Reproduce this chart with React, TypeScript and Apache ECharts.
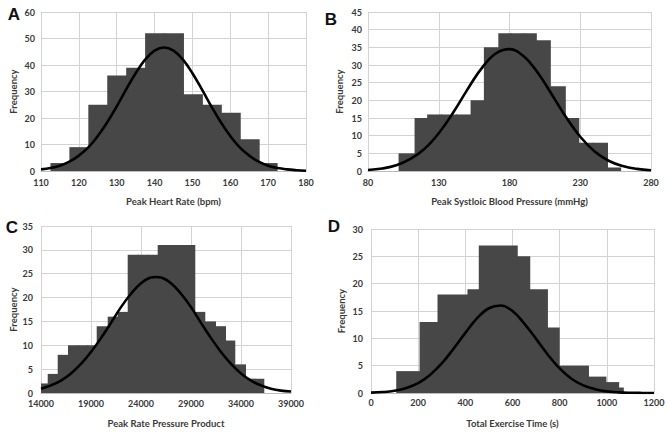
import React, { useEffect, useRef } from "react";
import * as echarts from "echarts";

// ---- Panel A: Peak Heart Rate ----
const aEdges = [112.5, 117.5, 122.5, 127.5, 132.5, 137.5, 142.5, 147.5, 152.5, 157.5, 162.5, 167.5, 172.5];
const aFreq = [3, 9, 25, 36, 39, 52, 52, 29, 25, 22, 12, 3];
const aCurveX = [110, 112.5, 115, 117.5, 120, 122.5, 125, 127.5, 130, 132.5, 135, 137.5, 140, 142.5, 145, 147.5, 150, 152.5, 155, 157.5, 160, 162.5, 165, 167.5, 170, 172.5, 175, 177.5, 180];
const aCurveY = [0.6, 1.1, 2.0, 3.5, 5.8, 8.9, 13.2, 18.4, 24.4, 30.8, 36.9, 42.0, 45.4, 46.6, 45.4, 42.0, 36.9, 30.8, 24.4, 18.4, 13.2, 8.9, 5.8, 3.5, 2.0, 1.1, 0.6, 0.3, 0.1];

// ---- Panel B: Peak Systolic Blood Pressure ----
const bEdges = [101.6, 112.9, 121.8, 131.9, 142.2, 152.5, 161.9, 172.1, 181.0, 189.8, 198.6, 208.5, 219.1, 228.6, 238.8, 248.9, 258.9];
const bFreq = [5, 15, 16, 16, 16, 20, 35, 39, 39, 39, 37, 24, 15, 8, 8, 1];
const bCurveX = [80, 90, 100, 110, 120, 130, 140, 150, 160, 170, 180, 190, 200, 210, 220, 230, 240, 250, 260, 270, 280];
const bCurveY = [0.3, 0.7, 1.6, 3.4, 6.3, 10.7, 16.4, 22.9, 28.9, 33.2, 34.5, 32.5, 27.8, 21.6, 15.2, 9.7, 5.6, 2.9, 1.4, 0.6, 0.2];

// ---- Panel C: Peak Rate Pressure Product ----
const cEdges = [14000, 14670, 15670, 16700, 17650, 18600, 19570, 20670, 21670, 22670, 23670, 24670, 25670, 26890, 28110, 29330, 30330, 31400, 32400, 33330, 34400, 35370, 36330];
const cFreq = [2, 4, 8, 10, 10, 10, 14, 16, 17, 29, 29, 29, 31, 31, 31, 17, 15, 14, 11, 6, 3, 3];
const cCurveX = [14000, 15000, 16000, 17000, 18000, 19000, 20000, 21000, 22000, 23000, 24000, 25000, 25500, 26000, 27000, 28000, 29000, 30000, 31000, 32000, 33000, 34000, 35000, 36000, 37000, 38000, 39000];
const cCurveY = [0.9, 1.6, 2.6, 4.1, 6.1, 8.6, 11.5, 14.7, 18.0, 20.8, 23.0, 24.2, 24.3, 24.2, 23.0, 20.8, 18.0, 14.7, 11.5, 8.6, 6.1, 4.1, 2.6, 1.6, 0.9, 0.5, 0.3];

// ---- Panel D: Total Exercise Time ----
const dEdges = [107, 206, 282, 409, 457, 618, 671, 746, 796, 920, 994, 1048, 1072];
const dFreq = [4, 13, 18, 19, 27, 25, 19, 12, 5, 3, 2, 1];
const dCurveX = [0, 50, 100, 150, 200, 250, 300, 350, 400, 450, 500, 550, 600, 650, 700, 750, 800, 850, 900, 950, 1000, 1050, 1100, 1150, 1200];
const dCurveY = [0.07, 0.17, 0.41, 0.91, 1.8, 3.3, 5.4, 8.1, 11.0, 13.7, 15.5, 16.0, 15.0, 12.7, 9.9, 7.0, 4.5, 2.6, 1.4, 0.7, 0.3, 0.12, 0.04, 0.01, 0.0];

const panelLetters = ["A", "B", "C", "D"];
const xNames = ["Peak Heart Rate (bpm)", "Peak Systloic Blood Pressure (mmHg)", "Peak Rate Pressure Product", "Total Exercise Time (s)"];

const FONT = "Lato, 'Open Sans', sans-serif";
const TXT = "#3a3a3a";
const GRIDC = "#d3d3d3";
const BAR = "#474747";

export default function App() {
  const ref = useRef<HTMLDivElement>(null);
  useEffect(() => {
    if (!ref.current) return;
    const chart = echarts.init(ref.current, undefined, { renderer: "svg" });

    const grids = [
      { left: 41, top: 12, width: 265, height: 159 },
      { left: 368, top: 12, width: 283, height: 159 },
      { left: 41, top: 226, width: 250, height: 167 },
      { left: 371, top: 229, width: 283, height: 164 },
    ];
    const xCfg = [
      { min: 110, max: 180, interval: 10, gap: 7, nameGap: 25 },
      { min: 80, max: 280, interval: 50, gap: 7, nameGap: 25 },
      { min: 14000, max: 39000, interval: 5000, gap: 6, nameGap: 25 },
      { min: 0, max: 1200, interval: 200, gap: 5, nameGap: 25 },
    ];
    const yCfg = [
      { max: 60, interval: 10, gap: 6, nameGap: 23 },
      { max: 45, interval: 5, gap: 6, nameGap: 24 },
      { max: 35, interval: 5, gap: 8, nameGap: 23 },
      { max: 30, interval: 5, gap: 8, nameGap: 25 },
    ];
    const hist = [
      { e: aEdges, f: aFreq, cx: aCurveX, cy: aCurveY },
      { e: bEdges, f: bFreq, cx: bCurveX, cy: bCurveY },
      { e: cEdges, f: cFreq, cx: cCurveX, cy: cCurveY },
      { e: dEdges, f: dFreq, cx: dCurveX, cy: dCurveY },
    ];

    const labelStyle = { fontFamily: FONT, fontSize: 9, fontWeight: "bold" as const, color: TXT };

    const xAxis = xCfg.map((c, i) => ({
      type: "value",
      gridIndex: i,
      min: c.min,
      max: c.max,
      interval: c.interval,
      name: xNames[i],
      nameLocation: "middle",
      nameGap: c.nameGap,
      nameTextStyle: { ...labelStyle, fontSize: 9.5 },
      axisLine: { show: true, lineStyle: { color: "#bdbdbd", width: 1 } },
      axisTick: { show: false },
      axisLabel: { ...labelStyle, margin: c.gap, formatter: (v: number) => String(v) },
      splitLine: { show: true, lineStyle: { color: GRIDC, width: 1 } },
    }));
    const yAxis = yCfg.map((c, i) => ({
      type: "value",
      gridIndex: i,
      min: 0,
      max: c.max,
      interval: c.interval,
      name: "Frequency",
      nameLocation: "middle",
      nameGap: c.nameGap,
      nameTextStyle: { ...labelStyle, fontSize: 9.5 },
      axisLine: { show: false },
      axisTick: { show: false },
      axisLabel: { ...labelStyle, margin: c.gap },
      splitLine: { show: true, lineStyle: { color: GRIDC, width: 1 } },
    }));

    const series: any[] = [];
    hist.forEach((h, i) => {
      series.push({
        type: "custom",
        xAxisIndex: i,
        yAxisIndex: i,
        data: h.f.map((f, k) => [h.e[k], h.e[k + 1], f]),
        encode: { x: [0, 1], y: 2 },
        renderItem: (params: any, api: any) => {
          const p0 = api.coord([api.value(0), api.value(2)]);
          const p1 = api.coord([api.value(1), 0]);
          const last = params.dataIndex === h.f.length - 1;
          return {
            type: "rect",
            shape: {
              x: p0[0],
              y: p0[1],
              width: p1[0] - p0[0] + (last ? 0 : 1),
              height: p1[1] - p0[1],
            },
            style: { fill: BAR },
          };
        },
        z: 2,
      });
      series.push({
        type: "line",
        xAxisIndex: i,
        yAxisIndex: i,
        data: h.cx.map((x, k) => [x, h.cy[k]]),
        smooth: 0.4,
        showSymbol: false,
        lineStyle: { color: "#000", width: 2.6 },
        z: 3,
      });
    });

    const letterPos = [
      [14, 14],
      [331, 19],
      [12, 227],
      [334, 226],
    ];
    const graphic = panelLetters.map((t, i) => ({
      type: "text",
      x: letterPos[i][0],
      y: letterPos[i][1],
      style: {
        text: t,
        fontFamily: "'Liberation Sans', Arial, sans-serif",
        fontWeight: "bold",
        fontSize: 17,
        fill: "#111",
        align: "center",
        verticalAlign: "middle",
      },
    }));

    chart.setOption({
      animation: false,
      backgroundColor: "#fff",
      grid: grids,
      xAxis,
      yAxis,
      series,
      graphic,
    });
    return () => chart.dispose();
  }, []);

  return (
    <div
      ref={ref}
      style={{ position: "absolute", left: 0, top: 0, width: 669, height: 436, background: "#fff" }}
    />
  );
}
